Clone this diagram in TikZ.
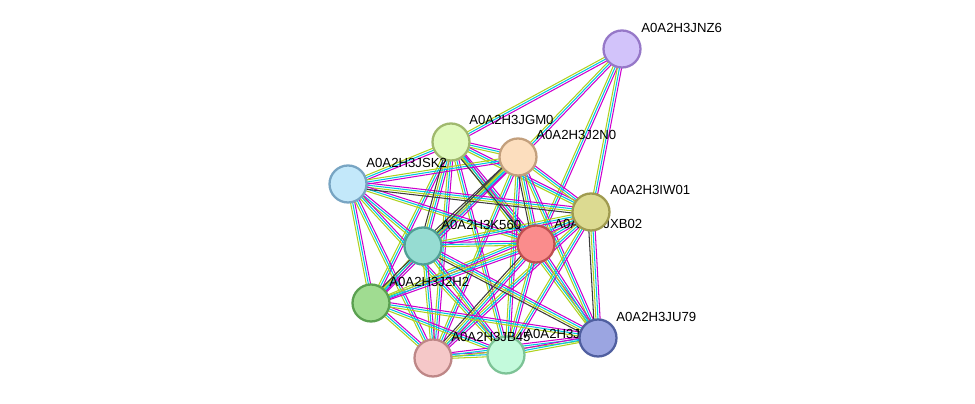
\documentclass[tikz,border=0pt]{standalone}
\usepackage{fontspec}
\setmainfont{Liberation Sans}
\usetikzlibrary{calc}
\definecolor{ecyan}{RGB}{0,200,225}
\definecolor{emag}{RGB}{205,0,205}
\definecolor{eyel}{RGB}{175,210,30}
\definecolor{eblk}{RGB}{60,60,60}
\begin{document}
\begin{tikzpicture}[x=0.02cm,y=-0.02cm,
% common options for the proteins:
prot/.style = {circle, draw, line width=1.3pt, minimum size=0.74cm, inner sep=0},
% common options for the labels:
lab/.style = {anchor=west, inner sep=0, font=\fontsize{7.5}{9}\selectfont},
link/.style = {line width=0.6pt}]
\useasboundingbox (0,0) rectangle (975,404);
% positions
\coordinate (NZ6) at (622,49);
\coordinate (GM0) at (451,142);
\coordinate (N0) at (518,157);
\coordinate (SK2) at (348,184);
\coordinate (W01) at (591,212);
\coordinate (K560) at (423,246);
\coordinate (B02) at (536,244);
\coordinate (H2) at (371,303);
\coordinate (U79) at (598,338);
\coordinate (B45) at (433,358);
\coordinate (J2X) at (506,355);
% links, three coloured lines each
\foreach \a/\b in {NZ6/GM0,NZ6/N0,NZ6/B02,NZ6/W01,
  GM0/N0,GM0/SK2,GM0/W01,GM0/K560,GM0/B02,GM0/H2,GM0/B45,GM0/J2X,GM0/U79,
  N0/SK2,N0/W01,N0/K560,N0/B02,N0/H2,N0/B45,N0/J2X,N0/U79,
  SK2/W01,SK2/K560,SK2/B02,SK2/H2,SK2/B45,SK2/J2X,
  W01/K560,W01/B02,W01/H2,W01/U79,W01/J2X,W01/B45,
  K560/B02,K560/H2,K560/B45,K560/J2X,K560/U79,
  B02/H2,B02/B45,B02/J2X,B02/U79,
  H2/B45,H2/J2X,H2/U79,B45/J2X,B45/U79,J2X/U79}{
  \draw[link,emag] ($(\a)!1.8pt!90:(\b)$) -- ($(\b)!1.8pt!-90:(\a)$);
  \draw[link,ecyan] ($(\a)!0.6pt!90:(\b)$) -- ($(\b)!0.6pt!-90:(\a)$);
  \draw[link,eyel] ($(\a)!-0.6pt!90:(\b)$) -- ($(\b)!-0.6pt!-90:(\a)$);
}
% extra dark lines
\foreach \a/\b in {GM0/K560,N0/K560,N0/B02,SK2/W01,K560/U79,B02/B45,W01/U79,GM0/B02,N0/H2}{
  \draw[link,eblk] ($(\a)!-1.8pt!90:(\b)$) -- ($(\b)!-1.8pt!-90:(\a)$);
}
% proteins, each with its label
\node[prot, draw={rgb,255:red,150;green,120;blue,200}, fill={rgb,255:red,210;green,195;blue,250}] (pNZ6) at (NZ6) {};
\node[lab] (tNZ6) at ($(NZ6)+(19,-21)$) {A0A2H3JNZ6};
\node[prot, draw={rgb,255:red,160;green,185;blue,110}, fill={rgb,255:red,225;green,250;blue,190}] (pGM0) at (GM0) {};
\node[lab] (tGM0) at ($(GM0)+(18,-22)$) {A0A2H3JGM0};
\node[prot, draw={rgb,255:red,195;green,160;blue,125}, fill={rgb,255:red,252;green,222;blue,190}] (pN0) at (N0) {};
\node[lab] (tN0) at ($(N0)+(18,-22)$) {A0A2H3J2N0};
\node[prot, draw={rgb,255:red,120;green,165;blue,195}, fill={rgb,255:red,195;green,232;blue,250}] (pSK2) at (SK2) {};
\node[lab] (tSK2) at ($(SK2)+(18,-21)$) {A0A2H3JSK2};
\node[prot, draw={rgb,255:red,90;green,160;blue,80}, fill={rgb,255:red,160;green,220;blue,145}] (pH2) at (H2) {};
\node[lab] (tH2) at ($(H2)+(18,-21)$) {A0A2H3J2H2};
\node[prot, draw={rgb,255:red,80;green,160;blue,150}, fill={rgb,255:red,150;green,220;blue,210}] (pK560) at (K560) {};
\node[lab] (tK560) at ($(K560)+(18,-21)$) {A0A2H3K560};
\node[prot, draw={rgb,255:red,190;green,80;blue,80}, fill={rgb,255:red,250;green,140;blue,140}] (pB02) at (B02) {};
\node[lab] (tB02) at ($(B02)+(18,-20)$) {A0A2H3JXB02};
\node[prot, draw={rgb,255:red,160;green,155;blue,80}, fill={rgb,255:red,220;green,218;blue,145}] (pW01) at (W01) {};
\node[lab] (tW01) at ($(W01)+(19,-22)$) {A0A2H3IW01};
\node[prot, draw={rgb,255:red,125;green,195;blue,150}, fill={rgb,255:red,195;green,250;blue,220}] (pJ2X) at (J2X) {};
\node[lab] (tJ2X) at ($(J2X)+(18,-21)$) {A0A2H3J2X1};
\node[prot, draw={rgb,255:red,190;green,135;blue,135}, fill={rgb,255:red,245;green,200;blue,200}] (pB45) at (B45) {};
\node[lab] (tB45) at ($(B45)+(18,-21)$) {A0A2H3JB45};
\node[prot, draw={rgb,255:red,80;green,95;blue,160}, fill={rgb,255:red,155;green,165;blue,225}] (pU79) at (U79) {};
\node[lab] (tU79) at ($(U79)+(18,-21)$) {A0A2H3JU79};
\end{tikzpicture}
\end{document}
